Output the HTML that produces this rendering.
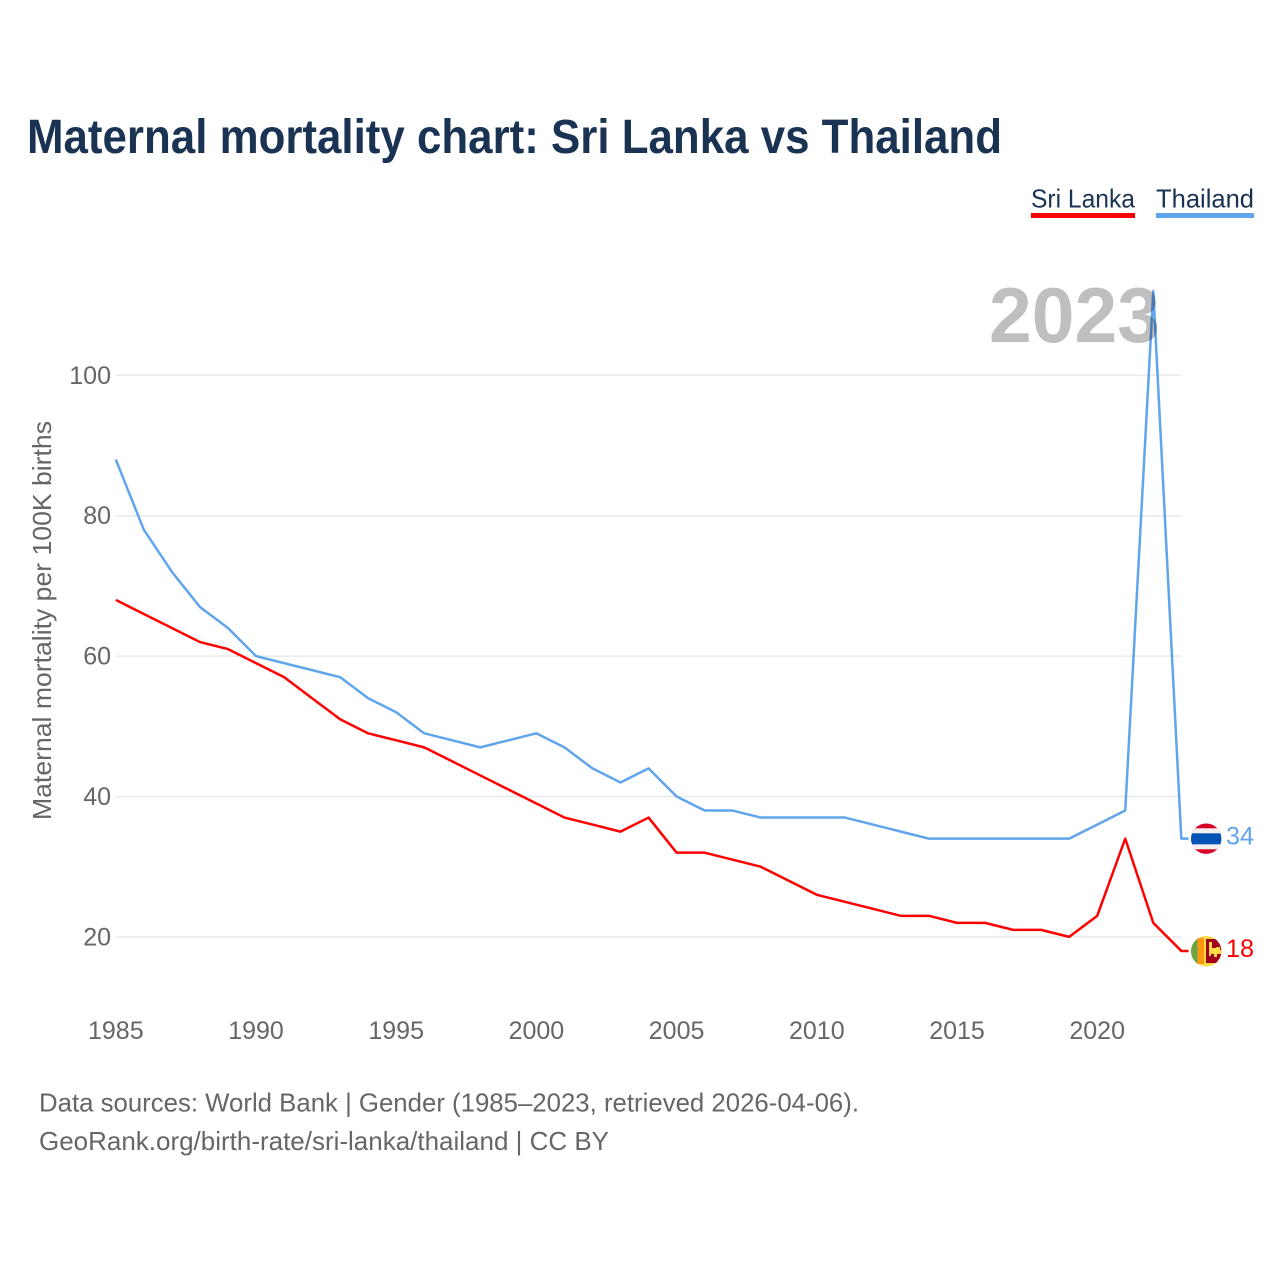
<!DOCTYPE html>
<html lang="en">
<head>
<meta charset="utf-8">
<title>Maternal mortality chart: Sri Lanka vs Thailand</title>
<style>
html,body{margin:0;padding:0;background:#fff;width:1280px;height:1280px;overflow:hidden}
svg{display:block}
text{font-family:"Liberation Sans",sans-serif}
</style>
</head>
<body>
<svg id="chart" xmlns="http://www.w3.org/2000/svg" width="1280" height="1280" viewBox="0 0 1280 1280">
  <defs>
    <clipPath id="flag-clip-th"><circle cx="1206.2" cy="838.7" r="15.2"/></clipPath>
    <clipPath id="flag-clip-lk"><circle cx="1206.2" cy="951.2" r="15.2"/></clipPath>
  </defs>
  <rect x="0" y="0" width="1280" height="1280" fill="#ffffff"/>
  <text x="27" y="153" font-size="48" font-weight="700" fill="#1a3353" textLength="975" lengthAdjust="spacingAndGlyphs">Maternal mortality chart: Sri Lanka vs Thailand</text>

  <g>
    <text x="1031" y="207.5" font-size="26" fill="#1a3353" textLength="104" lengthAdjust="spacingAndGlyphs">Sri Lanka</text>
    <rect x="1031" y="213" width="104" height="5" fill="#ff0000"/>
  </g>
  <g>
    <text x="1156" y="207.5" font-size="26" fill="#1a3353" textLength="98" lengthAdjust="spacingAndGlyphs">Thailand</text>
    <rect x="1156" y="213" width="98" height="5" fill="#60a5ec"/>
  </g>

  <g id="grid"></g>
  <g id="y-ticks"></g>
  <g id="x-ticks"></g>
  <text transform="translate(51,620.5) rotate(-90)" text-anchor="middle" font-size="26" fill="#666666" textLength="399" lengthAdjust="spacingAndGlyphs">Maternal mortality per 100K births</text>

  <g id="series"></g>

  <g clip-path="url(#flag-clip-th)">
    <rect x="1190" y="823" width="32" height="32" fill="#d80027"/>
    <rect x="1190" y="828.3" width="32" height="21" fill="#f0f0f0"/>
    <rect x="1190" y="833.3" width="32" height="11" fill="#0052b4"/>
  </g>
  <g clip-path="url(#flag-clip-lk)">
    <rect x="1190" y="935" width="32" height="32" fill="#ffda44"/>
    <rect x="1190" y="935" width="7.5" height="32" fill="#6da544"/>
    <rect x="1197.5" y="938" width="6.5" height="26" fill="#ff9811"/>
    <rect x="1206" y="939" width="16" height="24" fill="#a2001d"/>
    <path d="M1209 942h3v6h3l2-1h3v3h2v4h-5v3h-3v-3h-3v2h-2z" fill="#ffda44"/>
  </g>

  <text x="1226" y="844.5" font-size="25" fill="#60a5ec" textLength="28" lengthAdjust="spacingAndGlyphs">34</text>
  <text x="1226" y="957" font-size="25" fill="#ff0000" textLength="28" lengthAdjust="spacingAndGlyphs">18</text>

  <text x="989" y="342" font-size="78" font-weight="700" fill="#000000" fill-opacity="0.25" textLength="171" lengthAdjust="spacingAndGlyphs">2023</text>

  <text x="39" y="1111.5" font-size="26" fill="#666666" textLength="820" lengthAdjust="spacingAndGlyphs">Data sources: World Bank | Gender (1985–2023, retrieved 2026-04-06).</text>
  <text x="39" y="1150" font-size="26" fill="#666666" textLength="570" lengthAdjust="spacingAndGlyphs">GeoRank.org/birth-rate/sri-lanka/thailand | CC BY</text>
</svg>
<script>
var years = [1985,1986,1987,1988,1989,1990,1991,1992,1993,1994,1995,1996,1997,1998,1999,2000,2001,2002,2003,2004,2005,2006,2007,2008,2009,2010,2011,2012,2013,2014,2015,2016,2017,2018,2019,2020,2021,2022,2023];
var thailandValues = [88,78,72,67,64,60,59,58,57,54,52,49,48,47,48,49,47,44,42,44,40,38,38,37,37,37,37,36,35,34,34,34,34,34,34,36,38,112,34];
var sriLankaValues = [68,66,64,62,61,59,57,54,51,49,48,47,45,43,41,39,37,36,35,37,32,32,31,30,28,26,25,24,23,23,22,22,21,21,20,23,34,22,18];
var yTickValues = [20,40,60,80,100];
var xTickValues = [1985,1990,1995,2000,2005,2010,2015,2020];

var NS = 'http://www.w3.org/2000/svg';
function xScale(year){ return 115.8 + (year - 1985) * 28.04; }
function yScale(value){ return 375.3 + (100 - value) * 7.02; }
function make(tag, attrs){
  var el = document.createElementNS(NS, tag);
  for (var k in attrs) el.setAttribute(k, attrs[k]);
  return el;
}

var gridLayer = document.getElementById('grid');
var yLayer = document.getElementById('y-ticks');
yTickValues.forEach(function(v){
  var line = make('line', {x1:116, x2:1181, y1:yScale(v), y2:yScale(v), stroke:'#e9e9e9', 'stroke-width':1.5});
  
  
  gridLayer.appendChild(line);
  var label = make('text', {x:111, y:yScale(v) + 8.5, 'text-anchor':'end', 'font-size':25, fill:'#666666'});
  
  
  label.textContent = String(v);
  yLayer.appendChild(label);
});

var xLayer = document.getElementById('x-ticks');
xTickValues.forEach(function(y){
  var label = make('text', {x:xScale(y), y:1039, 'text-anchor':'middle', 'font-size':25, fill:'#666666'});
  
  
  label.textContent = String(y);
  xLayer.appendChild(label);
});

function drawSeries(values, color, name){
  var pts = values.map(function(v, i){ return xScale(years[i]).toFixed(2) + ',' + yScale(v).toFixed(2); });
  var lastY = yScale(values[values.length - 1]).toFixed(2);
  pts.push('1188.5,' + lastY);
  var line = make('polyline', {points:pts.join(' '), fill:'none', stroke:color, 'stroke-width':2.5, 'stroke-linejoin':'round'});
  
  
  document.getElementById('series').appendChild(line);
}
drawSeries(thailandValues, '#60a5ec', 'line-thailand');
drawSeries(sriLankaValues, '#ff0000', 'line-sri-lanka');
</script>
</body>
</html>
